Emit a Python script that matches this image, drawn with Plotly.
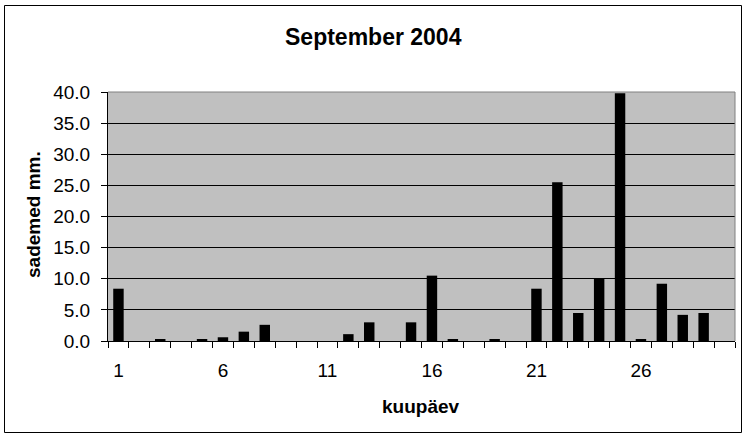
import plotly.graph_objects as go

days = list(range(1, 31))
rain = [8.4, 0, 0.3, 0, 0.3, 0.6, 1.5, 2.6, 0, 0, 0, 1.1, 3.0, 0, 3.0, 10.5, 0.3, 0, 0.3, 0,
        8.4, 25.5, 4.5, 10.0, 39.8, 0.3, 9.2, 4.2, 4.5, 0]
xticks = [1, 6, 11, 16, 21, 26]
yticks = [0, 5, 10, 15, 20, 25, 30, 35, 40]

W, H = 747, 439
L, R, T, B = 108, 735, 92, 341
pw, ph = R - L, B - T

def px(x):
    return (x - L) / pw

def py(y):
    return (B - y) / ph

fig = go.Figure(go.Bar(x=days, y=rain, marker=dict(color="black", line=dict(width=0)), width=0.5))

font = "Liberation Sans, Arial, sans-serif"
fig.update_layout(
    width=W, height=H,
    margin=dict(l=L, r=W - R, t=T, b=H - B, autoexpand=False),
    paper_bgcolor="white", plot_bgcolor="#C0C0C0",
    showlegend=False,
    font=dict(family=font, size=19, color="black"),
    xaxis=dict(range=[0.5, 30.5], tickvals=xticks, ticktext=[str(v) for v in xticks],
               ticks="", showgrid=False, zeroline=False, showline=True, linecolor="black",
               linewidth=1, mirror=False,
               minor=dict(tickvals=[i + 0.5 for i in range(0, 31)], ticks="outside",
                          ticklen=6, tickcolor="black", showgrid=False),
               ticklabelstandoff=12),
    yaxis=dict(range=[0, 40], tickvals=yticks, ticktext=[f"{v:.1f}" for v in yticks],
               ticks="outside", ticklen=6, tickcolor="black", showgrid=True,
               gridcolor="black", gridwidth=1, zeroline=False, showline=True,
               linecolor="black", linewidth=1, ticklabelstandoff=7),
    annotations=[
        dict(text="<b>September 2004</b>", xref="paper", yref="paper", x=px(373), y=py(37),
             xanchor="center", yanchor="middle", showarrow=False, font=dict(size=23)),
        dict(text="<b>kuupäev</b>", xref="paper", yref="paper", x=px(421), y=py(406),
             xanchor="center", yanchor="middle", showarrow=False, font=dict(size=19)),
        dict(text="<b>sademed mm.</b>", xref="paper", yref="paper", x=px(33), y=py(215),
             xanchor="center", yanchor="middle", showarrow=False, textangle=-90,
             font=dict(size=19)),
    ],
    shapes=[
        dict(type="line", xref="paper", yref="paper", x0=0, x1=1, y0=1, y1=1,
             line=dict(color="#808080", width=1)),
        dict(type="line", xref="paper", yref="paper", x0=1, x1=1, y0=0, y1=1,
             line=dict(color="#808080", width=1)),
        dict(type="rect", xref="paper", yref="paper", x0=px(4.5), x1=px(741.5), y0=py(432.5), y1=py(5.5),
             line=dict(color="black", width=1), fillcolor="rgba(0,0,0,0)", layer="above"),
    ],
)

fig.write_html("out.html", config={"displayModeBar": False},
               post_script="document.body.style.margin='0';document.body.style.padding='0';")
